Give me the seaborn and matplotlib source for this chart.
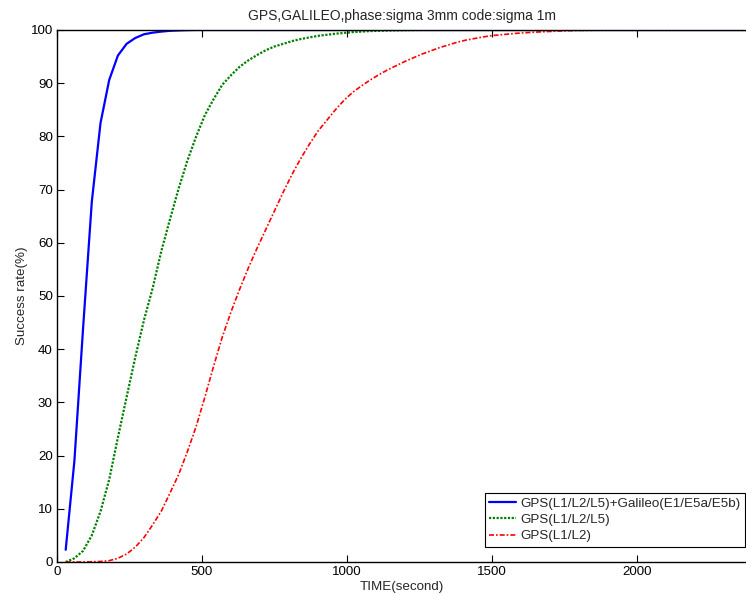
import numpy as np
import pandas as pd
import matplotlib
matplotlib.use("Agg")
import matplotlib.pyplot as plt
import seaborn as sns

# ------------------------------------------------------------
# Data (time in seconds, success rate in %)
# ------------------------------------------------------------
t_combo = [30, 60, 90, 120, 150, 180, 210, 240, 270, 300, 330, 360,
           390, 420, 450, 480, 600, 2400]
rate_combo = [2.3, 19.0, 44.0, 67.7, 82.5, 90.6, 95.2, 97.4, 98.5, 99.2,
              99.5, 99.7, 99.85, 99.92, 99.97, 100.0, 100.0, 100.0]

t_gps3 = [30, 60, 90, 120, 150, 180, 210, 240, 270, 300, 330, 360, 390,
          420, 450, 480, 510, 540, 570, 600, 630, 660, 690, 720, 750, 780,
          810, 840, 870, 900, 930, 960, 990, 1020, 1050, 1080, 1110, 1140,
          1170, 1200, 1250, 1400, 2400]
rate_gps3 = [0.0, 0.7, 2.1, 5.0, 9.5, 15.5, 23.4, 31.0, 38.5, 45.5, 51.5,
             58.5, 64.5, 70.3, 75.5, 80.0, 84.0, 87.0, 89.7, 91.5, 93.1,
             94.3, 95.3, 96.2, 96.9, 97.4, 97.9, 98.3, 98.6, 98.9, 99.1,
             99.3, 99.45, 99.6, 99.7, 99.8, 99.85, 99.9, 99.93, 99.96,
             100.0, 100.0, 100.0]

t_gps2 = [30, 60, 90, 120, 150, 180, 210, 240, 270, 300, 330, 360, 390,
          420, 450, 480, 510, 540, 570, 600, 630, 660, 690, 720, 750, 780,
          810, 840, 870, 900, 930, 960, 990, 1020, 1050, 1080, 1110, 1140,
          1170, 1200, 1230, 1260, 1290, 1320, 1350, 1380, 1410, 1440, 1470,
          1500, 1530, 1560, 1590, 1620, 1650, 1680, 1710, 1740, 1770, 1800,
          1850, 1900, 2400]
rate_gps2 = [0.0, 0.0, 0.0, 0.05, 0.1, 0.25, 0.7, 1.5, 2.8, 4.6, 7.0, 9.6,
             13.0, 16.5, 20.8, 25.5, 31.0, 36.8, 42.3, 47.0, 51.3, 55.3,
             59.0, 62.5, 66.0, 69.5, 72.8, 75.8, 78.5, 81.0, 83.0, 85.0,
             86.8, 88.3, 89.5, 90.6, 91.6, 92.5, 93.3, 94.1, 94.8, 95.5,
             96.1, 96.7, 97.2, 97.7, 98.1, 98.4, 98.7, 98.95, 99.1, 99.25,
             99.4, 99.5, 99.6, 99.68, 99.75, 99.82, 99.88, 99.92, 99.96,
             100.0, 100.0]

labels = ["GPS(L1/L2/L5)+Galileo(E1/E5a/E5b)", "GPS(L1/L2/L5)", "GPS(L1/L2)"]
colors = ["#0000ff", "#008000", "#ff0000"]
styles = ["-", (0, (1.0, 0.7)), (0, (3.0, 1.2, 1.0, 1.2))]
widths = [1.6, 1.6, 1.2]

x_ticks = [0, 500, 1000, 1500, 2000]
y_ticks = [0, 10, 20, 30, 40, 50, 60, 70, 80, 90, 100]

# ------------------------------------------------------------
# Plot
# ------------------------------------------------------------
sns.set_style("ticks")
plt.rcParams["font.family"] = ["Liberation Sans", "DejaVu Sans"]
plt.rcParams["xtick.direction"] = "in"
plt.rcParams["ytick.direction"] = "in"

FS = 9.6

fig = plt.figure(figsize=(7.46, 5.95), dpi=100)
ax = fig.add_axes([57 / 746, 1 - 562 / 595, 1 - 57 / 746, (562 - 30) / 595])

series = [(t_combo, rate_combo), (t_gps3, rate_gps3), (t_gps2, rate_gps2)]
for (t, r), lab, c, ls, lw in zip(series, labels, colors, styles, widths):
    df = pd.DataFrame({"t": t, "rate": r})
    sns.lineplot(data=df, x="t", y="rate", ax=ax, color=c, linestyle=ls,
                 linewidth=lw, label=lab)

ax.set_xlim(0, 2376)
ax.set_ylim(0, 100)
ax.set_xticks(x_ticks)
ax.set_yticks(y_ticks)
ax.tick_params(axis="both", labelsize=FS, length=5, width=0.8,
               top=True, colors="black", pad=3)
for side in ["left", "bottom", "top"]:
    ax.spines[side].set_linewidth(1.0)
    ax.spines[side].set_color("black")
ax.spines["right"].set_visible(False)

ax.set_title("GPS,GALILEO,phase:sigma 3mm code:sigma 1m", fontsize=10, pad=7)
ax.set_xlabel("TIME(second)", fontsize=FS, labelpad=2)
ax.set_ylabel("Success rate(%)", fontsize=FS, labelpad=2)

leg = ax.legend(loc="lower right", bbox_to_anchor=(0.9985, 0.028),
                fontsize=FS, frameon=True, fancybox=False, framealpha=1,
                edgecolor="black", borderpad=0.35, labelspacing=0.3,
                handlelength=2.0, handletextpad=0.3, borderaxespad=0)
leg.get_frame().set_linewidth(0.8)

fig.savefig("out.png", dpi=100)
